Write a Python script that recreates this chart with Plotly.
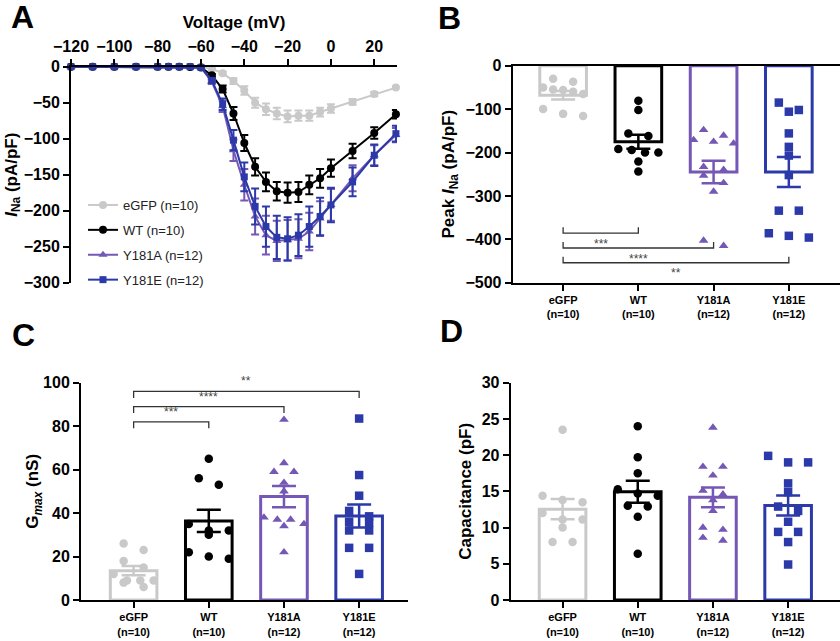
import numpy as np
import plotly.graph_objects as go

# ---------------- data ----------------
groups = ["eGFP", "WT", "Y181A", "Y181E"]
group_n = [10, 10, 12, 12]
tick_text = [f"{g}<br>(n={n})" for g, n in zip(groups, group_n)]

# Panel A: I-V curves
voltage = [-120, -110, -100, -90, -80, -75, -70, -65, -60, -55, -50, -45, -40, -35,
           -30, -25, -20, -15, -10, -5, 0, 10, 20, 30]
iv_egfp = [0, 0, 0, 0, 0, 0, 0, 0, -0.5, -3, -9, -20, -33, -50, -59, -65, -69, -68, -68, -63, -58, -49, -38, -29]
iv_egfp_err = [0, 0, 0, 0, 0, 0, 0, 0, 0.3, 1, 2, 4, 6, 7, 8, 8, 8, 7, 7, 6, 6, 4, 3, 2]
iv_wt = [0, 0, 0, 0, 0, 0, 0, -0.3, -1, -12, -31, -65, -106, -139, -160, -173, -175, -174, -164, -155, -141, -117, -92, -66]
iv_wt_err = [0, 0, 0, 0, 0, 0, 0, 0.2, 0.5, 2, 5, 9, 11, 12, 13, 13, 14, 14, 13, 13, 12, 10, 8, 6]
iv_y181a = [0, 0, 0, 0, 0, 0, 0, 0, -1, -21, -55, -116, -164, -208, -234, -242, -241, -239, -229, -211, -192, -155, -123, -95]
iv_y181a_err = [0, 0, 0, 0, 0, 0, 0, 0, 0.5, 3, 8, 15, 22, 25, 27, 28, 28, 27, 26, 24, 22, 18, 14, 10]
iv_y181e = [0, 0, 0, 0, 0, 0, 0, 0, -1, -19, -52, -102, -153, -194, -222, -237, -239, -234, -222, -208, -192, -160, -123, -93]
iv_y181e_err = [0, 0, 0, 0, 0, 0, 0, 0, 0.5, 3, 8, 14, 20, 25, 28, 30, 30, 29, 28, 26, 24, 20, 15, 11]

# Panel B: peak INa (pA/pF)
peak_egfp = [-30, -37, -50, -55, -56, -60, -65, -100, -111, -116]
peak_wt = [-81, -102, -156, -162, -192, -194, -200, -200, -221, -244]
peak_y181a = [-148, -175, -179, -171, -161, -233, -240, -253, -270, -290, -415, -403]
peak_y181e = [-85, -106, -102, -156, -187, -207, -252, -334, -334, -396, -386, -392]

# Panel C: Gmax (nS)
gmax_egfp = [26, 23, 18, 15, 12, 9, 9, 9, 8, 6]
gmax_wt = [65, 56, 53, 35, 32, 32, 30, 22, 20, 19]
gmax_y181a = [83, 63, 59, 59, 54, 50, 38, 37, 37, 35, 34, 22]
gmax_y181e = [83.5, 57.5, 48, 38.5, 41, 36, 35.5, 32, 32, 24, 24, 12]

# Panel D: capacitance (pF)
cap_egfp = [23.5, 13.8, 14.4, 13.5, 11.1, 12, 11.1, 10, 8, 8]
cap_wt = [24, 19.7, 17.5, 14.4, 14.7, 15.3, 12.9, 13, 11.5, 6.4]
cap_y181a = [23.8, 18.4, 18.4, 17.2, 14.6, 15.1, 13.8, 12.3, 9.7, 10, 8.6, 8.2]
cap_y181e = [19, 19, 19.9, 16.1, 14.9, 12.3, 12.9, 10.8, 9.4, 9.4, 8, 4.9]

# significance comparisons (group index a, group index b, label)
comparisons = [(0, 1, "***"), (0, 2, "****"), (0, 3, "**")]

# ---------------- style ----------------
colors = ["#c9c9c9", "#000000", "#7557b5", "#2b3aa8"]
symbols = ["circle", "circle", "triangle-up", "square"]
FONT = "Liberation Sans, Arial, Helvetica, sans-serif"
W, H = 840, 641
PX_PER_CAT = 75.2


def dom_x(a, b):
    return [a / W, min(b / W, 1.0)]


def dom_y(top, bottom):
    return [1 - bottom / H, 1 - top / H]


def swarm(vals, px_per_unit, row_px=8.0, step_px=20.0, max_half_px=20.0):
    vals = np.asarray(vals, float)
    order = np.argsort(-vals)
    rows = []
    for i in order:
        if rows and abs(vals[i] - vals[rows[-1][0]]) * px_per_unit < row_px:
            rows[-1].append(i)
        else:
            rows.append([i])
    off = np.zeros(len(vals))
    for row in rows:
        m = len(row)
        sp = step_px if m <= 3 else 2 * max_half_px / (m - 1)
        for k, i in enumerate(row):
            off[i] = (k - (m - 1) / 2) * sp / PX_PER_CAT
    return off


fig = go.Figure()

# ---------------- Panel A ----------------
iv_series = [(iv_egfp, iv_egfp_err), (iv_wt, iv_wt_err), (iv_y181a, iv_y181a_err), (iv_y181e, iv_y181e_err)]
for gi, (vals, errs) in enumerate(iv_series):
    fig.add_trace(go.Scatter(
        x=voltage, y=vals, mode="lines+markers",
        name=f"{groups[gi]} (n={group_n[gi]})", legendgroup=groups[gi],
        line=dict(color=colors[gi], width=2),
        marker=dict(color=colors[gi], symbol=symbols[gi], size=8 if gi < 3 else 7),
        error_y=dict(type="data", array=errs, color=colors[gi], thickness=2, width=4),
        cliponaxis=False, xaxis="x", yaxis="y",
    ))

# ---------------- bar panels ----------------
panels = [
    ("x2", "y2", [peak_egfp, peak_wt, peak_y181a, peak_y181e], 217.0 / 500),
    ("x3", "y3", [gmax_egfp, gmax_wt, gmax_y181a, gmax_y181e], 217.3 / 100),
    ("x4", "y4", [cap_egfp, cap_wt, cap_y181a, cap_y181e], 217.3 / 30),
]
for xa, ya, data, ppu in panels:
    for gi, vals in enumerate(data):
        v = np.asarray(vals, float)
        mean = v.mean()
        sem = v.std(ddof=1) / np.sqrt(len(v))
        fig.add_trace(go.Bar(
            x=[gi], y=[mean], width=0.62, showlegend=False,
            marker=dict(color="white", line=dict(color=colors[gi], width=3)),
            xaxis=xa, yaxis=ya,
        ))
        off = swarm(v, ppu)
        fig.add_trace(go.Scatter(
            x=gi + off, y=v, mode="markers", showlegend=False,
            marker=dict(color=colors[gi], symbol=symbols[gi], size=8.5),
            cliponaxis=False, xaxis=xa, yaxis=ya,
        ))
        fig.add_trace(go.Scatter(
            x=[gi], y=[mean], mode="markers", showlegend=False,
            marker=dict(size=1, color=colors[gi], opacity=0),
            error_y=dict(type="data", array=[sem], color=colors[gi], thickness=2.5, width=12),
            cliponaxis=False, xaxis=xa, yaxis=ya,
        ))

# ---------------- significance brackets ----------------
shapes = []
annotations = []
# Panel B: brackets open upward, labels below
b_levels = [-386, -420, -454]
for (a, b, lab), yl in zip(comparisons, b_levels):
    shapes.append(dict(type="path", xref="x2", yref="y2",
                       path=f"M {a},{yl + 14} L {a},{yl} L {b},{yl} L {b},{yl + 14}",
                       line=dict(color="#333333", width=1.3)))
    annotations.append(dict(x=(a + b) / 2, y=yl - 4, xref="x2", yref="y2", text=lab,
                            showarrow=False, yanchor="top",
                            font=dict(family=FONT, size=12, color="#444444")))
# Panel C: brackets open downward, labels above
c_levels = [82, 89, 96]
for (a, b, lab), yl in zip(comparisons, c_levels):
    shapes.append(dict(type="path", xref="x3", yref="y3",
                       path=f"M {a},{yl - 3} L {a},{yl} L {b},{yl} L {b},{yl - 3}",
                       line=dict(color="#333333", width=1.3)))
    annotations.append(dict(x=(a + b) / 2, y=yl + 0.5, xref="x3", yref="y3", text=lab,
                            showarrow=False, yanchor="bottom",
                            font=dict(family=FONT, size=12, color="#444444")))

# panel letters
for lab, px, py in [("A", 22, 17), ("B", 449, 18), ("C", 23, 335), ("D", 451, 331)]:
    annotations.append(dict(x=px / W, y=1 - py / H, xref="paper", yref="paper", text=lab,
                            showarrow=False, xanchor="center", yanchor="middle",
                            font=dict(family=FONT, size=32, color="black", weight="bold")))

# ---------------- axes ----------------
common = dict(showline=True, linewidth=2, linecolor="black", ticks="outside", ticklen=6,
              tickwidth=2, tickcolor="black", showgrid=False, zeroline=False, automargin=False,
              tickfont=dict(family=FONT, size=16, color="black", weight="bold"))
title_font = dict(family=FONT, size=17, color="black", weight="bold")
cat_axis = dict(common, tickvals=[0, 1, 2, 3], ticktext=tick_text,
                tickfont=dict(family=FONT, size=11, color="black", weight="bold"))

fig.update_layout(
    width=W, height=H, margin=dict(l=0, r=0, t=0, b=0, autoexpand=False),
    paper_bgcolor="white", plot_bgcolor="white",
    font=dict(family=FONT, color="black"),
    barmode="overlay",
    xaxis=dict(common, domain=dom_x(71, 397), range=[-120, 30.5], side="top",
               anchor="y", dtick=20, tick0=-120,
               title=dict(text="Voltage (mV)", font=title_font, standoff=5)),
    yaxis=dict(common, domain=dom_y(66.7, 282.7), range=[-300, 0], anchor="x", dtick=50,
               title=dict(text="<i>I</i><sub>Na</sub> (pA/pF)", font=title_font, standoff=2)),
    xaxis2=dict(cat_axis, domain=dom_x(512.7, 840), range=[-0.67, 3.68], anchor="y2", mirror=True),
    yaxis2=dict(common, domain=dom_y(65.7, 282.7), range=[-500, 0], anchor="x2", dtick=100,
                title=dict(text="Peak <i>I</i><sub>Na</sub> (pA/pF)", font=title_font, standoff=6)),
    xaxis3=dict(cat_axis, domain=dom_x(81, 408), range=[-0.70, 3.65], anchor="y3"),
    yaxis3=dict(common, domain=dom_y(382.7, 600), range=[0, 100], anchor="x3", dtick=20,
                title=dict(text="G<sub><i>max</i></sub> (nS)", font=title_font, standoff=0)),
    xaxis4=dict(cat_axis, domain=dom_x(510.7, 840), range=[-0.69, 3.69], anchor="y4"),
    yaxis4=dict(common, domain=dom_y(382.7, 600), range=[0, 30], anchor="x4", dtick=5,
                title=dict(text="Capacitance (pF)", font=title_font, standoff=6)),
    legend=dict(x=83 / W, y=1 - 190 / H, xanchor="left", yanchor="top",
                bgcolor="rgba(0,0,0,0)", font=dict(family=FONT, size=13, color="#222222"),
                tracegroupgap=5),
    shapes=shapes, annotations=annotations,
)

fig.write_html("out.html", config={"displayModeBar": False},
               post_script="document.body.style.margin='0';document.body.style.overflow='hidden';")
